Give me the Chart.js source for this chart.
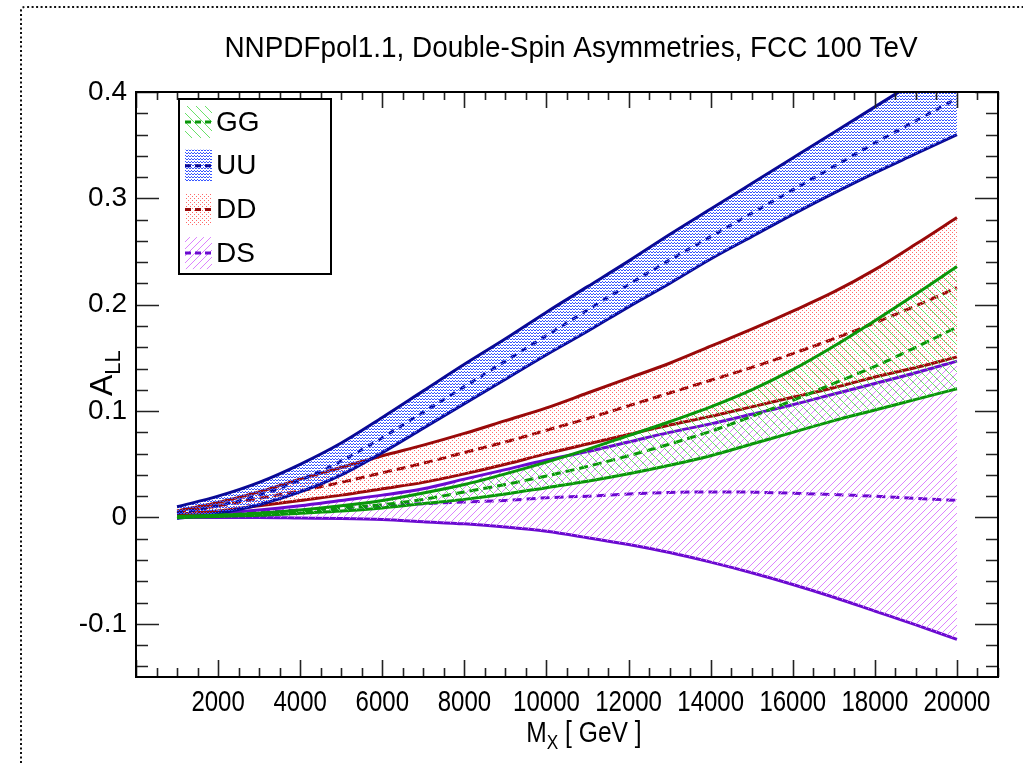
<!DOCTYPE html>
<html><head><meta charset="utf-8">
<script src="https://cdn.jsdelivr.net/npm/chart.js@4/dist/chart.umd.min.js"></script>
<style>html,body{margin:0;padding:0;background:#fff;overflow:hidden}canvas{display:block}</style>
</head><body>
<canvas id="c" width="1023" height="763"></canvas>
<script>
// ---- data (A_LL vs M_X) ----
const massGeV   = [1000,2000,3000,4000,5000,6000,7000,8000,9000,10000,11000,12000,13000,14000,15000,16000,17000,18000,19000,20000];
const ggUpper   = [0.001,0.002,0.004,0.007,0.011,0.016,0.023,0.031,0.041,0.052,0.064,0.077,0.090,0.104,0.120,0.139,0.161,0.185,0.210,0.236];
const ggCentral = [0.000,0.002,0.004,0.006,0.009,0.012,0.017,0.024,0.031,0.039,0.048,0.058,0.069,0.081,0.095,0.110,0.126,0.142,0.160,0.179];
const ggLower   = [0.000,0.001,0.002,0.004,0.006,0.009,0.013,0.017,0.022,0.028,0.034,0.041,0.049,0.058,0.069,0.080,0.091,0.101,0.111,0.121];
const uuUpper   = [0.010,0.020,0.033,0.050,0.070,0.094,0.119,0.144,0.168,0.193,0.217,0.241,0.266,0.290,0.314,0.338,0.362,0.386,0.410,0.434];
const uuCentral = [0.004,0.011,0.021,0.035,0.053,0.075,0.099,0.123,0.147,0.171,0.195,0.219,0.242,0.264,0.286,0.308,0.330,0.352,0.373,0.394];
const uuLower   = [-0.001,0.004,0.012,0.024,0.040,0.061,0.084,0.107,0.130,0.153,0.175,0.198,0.220,0.243,0.264,0.285,0.305,0.324,0.342,0.360];
const ddUpper   = [0.006,0.014,0.024,0.036,0.047,0.058,0.068,0.079,0.091,0.103,0.117,0.131,0.145,0.161,0.177,0.194,0.212,0.233,0.257,0.282];
const ddCentral = [0.004,0.011,0.018,0.025,0.033,0.042,0.051,0.061,0.071,0.082,0.093,0.105,0.117,0.129,0.141,0.154,0.168,0.183,0.199,0.216];
const ddLower   = [0.003,0.006,0.011,0.016,0.021,0.027,0.033,0.041,0.050,0.060,0.069,0.078,0.087,0.095,0.104,0.113,0.122,0.132,0.141,0.151];
const dsUpper   = [0.002,0.004,0.007,0.011,0.016,0.021,0.027,0.036,0.045,0.054,0.062,0.071,0.080,0.088,0.097,0.106,0.116,0.126,0.136,0.147];
const dsCentral = [0.001,0.003,0.005,0.007,0.009,0.011,0.013,0.0145,0.016,0.0185,0.020,0.022,0.0235,0.024,0.0238,0.0228,0.0215,0.020,0.018,0.016];
const dsLower   = [0.000,0.000,0.000,-0.0005,-0.001,-0.002,-0.004,-0.006,-0.009,-0.013,-0.019,-0.0255,-0.033,-0.042,-0.052,-0.063,-0.075,-0.088,-0.101,-0.1146];

const seriesNames = ['GG','UU','DD','DS'];
const xTickValues = [2000,4000,6000,8000,10000,12000,14000,16000,18000,20000];
const yTickValues = [-0.1,0,0.1,0.2,0.3,0.4];
const yTickLabels = ['-0.1','0','0.1','0.2','0.3','0.4'];
const titleText = 'NNPDFpol1.1, Double-Spin Asymmetries, FCC 100 TeV';

// ---- styles ----
function makePattern(w, h, color, pixels) {
  const c = document.createElement('canvas'); c.width = w; c.height = h;
  const g = c.getContext('2d'); g.fillStyle = color;
  pixels.forEach(p => g.fillRect(p[0], p[1], 1, 1));
  return document.getElementById('c').getContext('2d').createPattern(c, 'repeat');
}
const diagDown = n => Array.from({length:n}, (_, i) => [i, i]);
const diagUp = n => Array.from({length:n}, (_, i) => [i, n - 1 - i]);
const styles = {
  GG: {line:'#0a960a', fill: makePattern(9, 9, 'rgb(105,225,105)', diagDown(9)), dash:[9,5]},
  UU: {line:'#0a0a96', fill: makePattern(3, 3, 'rgb(55,85,255)', [[0,0],[1,0],[2,2]]), dash:[6,6]},
  DD: {line:'#990a0a', fill: makePattern(4, 4, 'rgb(255,105,105)', [[0,0],[2,2]]), dash:[9,5]},
  DS: {line:'#6a0ad0', fill: makePattern(7, 7, 'rgb(220,130,255)', diagUp(7)), dash:[9,5]}
};
const bands = {GG:[ggUpper,ggCentral,ggLower], UU:[uuUpper,uuCentral,uuLower], DD:[ddUpper,ddCentral,ddLower], DS:[dsUpper,dsCentral,dsLower]};

const pts = arr => arr.map((v, i) => ({x: massGeV[i], y: v}));
const datasets = [];
seriesNames.forEach((name, k) => {
  const st = styles[name], b = bands[name], base = k * 3;
  const common = {pointRadius: 0, cubicInterpolationMode: 'monotone', borderColor: st.line, borderWidth: 3};
  datasets.push(Object.assign({label: name + ' upper', data: pts(b[0]), backgroundColor: st.fill, fill: {target: base + 2}}, common));
  datasets.push(Object.assign({label: name, data: pts(b[1]), borderDash: st.dash, fill: false}, common));
  datasets.push(Object.assign({label: name + ' lower', data: pts(b[2]), fill: false}, common));
});

function drawScaledText(ctx, text, x, y, font, sx, align) {
  ctx.save(); ctx.font = font; ctx.textAlign = align || 'left';
  ctx.translate(x, y); ctx.scale(sx, 1); ctx.fillText(text, 0, 0); ctx.restore();
}

const decor = {
  id: 'decor',
  afterDraw(chart) {
    const {ctx, chartArea: a, scales: {x, y}} = chart;
    ctx.save();
    // ticks
    ctx.strokeStyle = '#222'; ctx.lineWidth = 1.6; ctx.beginPath();
    for (let v = 0; v <= 21000; v += 500) {
      const px = Math.round(x.getPixelForValue(v)) + 0.5;
      const major = v % 2000 === 0;
      ctx.moveTo(px, a.bottom); ctx.lineTo(px, a.bottom - (major ? 17 : 9));
      ctx.moveTo(px, a.top); ctx.lineTo(px, a.top + (major ? 16 : 8));
    }
    for (let k = -7; k <= 20; k++) {
      const py = Math.round(y.getPixelForValue(k * 0.02)) + 0.5;
      const major = k % 5 === 0;
      ctx.moveTo(a.left, py); ctx.lineTo(a.left + (major ? 23 : 12), py);
      ctx.moveTo(a.right, py); ctx.lineTo(a.right - (major ? 23 : 12), py);
    }
    ctx.stroke();
    // frame
    ctx.strokeStyle = '#000'; ctx.lineWidth = 2;
    ctx.strokeRect(a.left, a.top, a.right - a.left, a.bottom - a.top);
    // x tick labels (condensed)
    ctx.fillStyle = '#000'; ctx.textBaseline = 'alphabetic';
    xTickValues.forEach(v => drawScaledText(ctx, String(v), x.getPixelForValue(v), 711, '30px "Liberation Sans"', 0.8, 'center'));
    // title
    drawScaledText(ctx, titleText, (a.left + a.right) / 2 + 4, 57, '30px "Liberation Sans"', 0.93, 'center');
    // x title
    const sx = 0.82;
    const xt = [['M', '30px "Liberation Sans"', 0], ['X', '21px "Liberation Sans"', 7], [' [ GeV ]', '30px "Liberation Sans"', 0]];
    let w = 0; xt.forEach(t => { ctx.font = t[1]; w += ctx.measureText(t[0]).width * sx; });
    let cx = 584 - w / 2;
    xt.forEach(t => { drawScaledText(ctx, t[0], cx, 742 + t[2], t[1], sx, 'left'); ctx.font = t[1]; cx += ctx.measureText(t[0]).width * sx; });
    // y title
    ctx.save(); ctx.translate(112, 396); ctx.rotate(-Math.PI / 2); ctx.textAlign = 'left';
    ctx.font = '32px "Liberation Sans"'; ctx.fillText('A', 0, 0);
    const aw = ctx.measureText('A').width;
    ctx.font = '22px "Liberation Sans"'; ctx.fillText('LL', aw, 8);
    ctx.restore();
    // legend
    const L = {x: 179, y: 99, w: 152, h: 175};
    ctx.fillStyle = '#fff'; ctx.fillRect(L.x, L.y, L.w, L.h);
    ctx.strokeStyle = '#000'; ctx.lineWidth = 2; ctx.strokeRect(L.x, L.y, L.w, L.h);
    seriesNames.forEach((name, i) => {
      const st = styles[name], cy = 122 + i * 43.7;
      ctx.fillStyle = st.fill; ctx.fillRect(185, cy - 16, 27, 32);
      ctx.strokeStyle = st.line; ctx.lineWidth = 3; ctx.setLineDash([6, 4]);
      ctx.beginPath(); ctx.moveTo(185, cy); ctx.lineTo(212, cy); ctx.stroke(); ctx.setLineDash([]);
      ctx.fillStyle = '#000'; ctx.font = '28px "Liberation Sans"'; ctx.textBaseline = 'middle'; ctx.textAlign = 'left';
      ctx.fillText(name, 216, cy + 1);
    });
    // dotted outer frame
    ctx.strokeStyle = '#111'; ctx.lineWidth = 2; ctx.setLineDash([2, 2.5]);
    ctx.beginPath(); ctx.moveTo(21, 763); ctx.lineTo(21, 10); ctx.quadraticCurveTo(21, 7, 26, 7); ctx.lineTo(1023, 7); ctx.stroke();
    ctx.restore();
  }
};

new Chart(document.getElementById('c'), {
  type: 'line',
  data: {datasets},
  options: {
    responsive: false, animation: false, devicePixelRatio: 1,
    layout: {padding: {top: 92, right: 25, left: 0, bottom: 0}},
    plugins: {legend: {display: false}, tooltip: {enabled: false}, title: {display: false}},
    scales: {
      x: {type: 'linear', min: 0, max: 21000,
          afterBuildTicks: s => { s.ticks = xTickValues.map(v => ({value: v})); },
          afterFit: s => { s.height = 86; },
          grid: {display: false, drawTicks: false}, border: {display: false},
          ticks: {display: false}},
      y: {type: 'linear', min: -0.15, max: 0.4,
          afterBuildTicks: s => { s.ticks = yTickValues.map(v => ({value: v})); },
          afterFit: s => { s.width = 136; },
          grid: {display: false, drawTicks: false}, border: {display: false},
          ticks: {padding: 9, color: '#000', font: {family: 'Liberation Sans', size: 28},
                  callback: v => { const i = yTickValues.findIndex(t => Math.abs(t - v) < 1e-9); return i >= 0 ? yTickLabels[i] : ''; }}}
    }
  },
  plugins: [decor]
});
</script>
</body></html>
